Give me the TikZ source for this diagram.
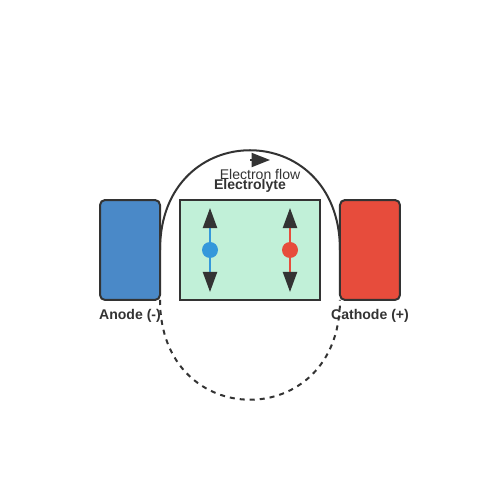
\documentclass[tikz,border=0pt]{standalone}
\usepackage{fontspec}
\setmainfont{Liberation Sans}
\usetikzlibrary{arrows.meta,positioning}

\definecolor{dark}{HTML}{333333}
\definecolor{anodeblue}{HTML}{4A89C8}
\definecolor{cathodered}{HTML}{E74C3C}
\definecolor{electrolyte}{HTML}{C1F0D8}
\definecolor{ionblue}{HTML}{3498DB}
\definecolor{ionred}{HTML}{E74C3C}

\begin{document}
\begin{tikzpicture}[x=0.02cm,y=0.02cm,line width=1.14pt,node distance=0.4cm,
                    font=\fontsize{8}{9.6}\selectfont]
  \tikzstyle{electrode}=[draw=dark,rounded corners=2.85pt,minimum width=1.2cm,
                         minimum height=2cm,inner sep=0pt,outer sep=0pt]
  \tikzstyle{ion}=[circle,inner sep=0pt,outer sep=0pt,minimum size=0.32cm]
  \tikzstyle{drift}=[-{Triangle[length=11.4pt,width=8pt,color=dark]}]
  \tikzstyle{elabel}=[text=dark,font=\bfseries\fontsize{8}{9.6}\selectfont,anchor=base]

  \useasboundingbox (0,0) rectangle (500,500);

  \node[draw=dark,fill=electrolyte,minimum width=2.8cm,minimum height=2cm,
        inner sep=0pt,outer sep=0pt] (bath) at (250,250) {};
  \node[electrode,fill=anodeblue]  (anode)   [left=of bath]  {};
  \node[electrode,fill=cathodered] (cathode) [right=of bath] {};

  % ions
  \node[ion,fill=ionblue] (neg) at (210,250) {};
  \node[ion,fill=ionred]  (pos) at (290,250) {};
  \coordinate (negup)   at (210,292);
  \coordinate (negdown) at (210,208);
  \coordinate (posup)   at (290,292);
  \coordinate (posdown) at (290,208);
  \draw[drift,ionblue] (neg) -- (negup);
  \draw[drift,ionblue] (neg) -- (negdown);
  \draw[drift,ionred]  (pos) -- (posup);
  \draw[drift,ionred]  (pos) -- (posdown);

  % external circuit
  \draw[dark] (anode.east) .. controls +(0,133) and +(0,133) .. (cathode.west);
  \draw[dark,dash pattern=on 2.85pt off 2.85pt]
    (anode.south east) .. controls +(0,-133) and +(0,-133) .. (cathode.south west);
  \coordinate (flowtail) at (250,340);
  \coordinate (flowhead) at (270,340);
  \draw[dark,-{Triangle[length=10.5pt,width=8pt]}] (flowtail) -- (flowhead);

  \node[text=dark,anchor=base] (flowtext) at (260,320) {Electron flow};
  \node[elabel] (bathtext)    at (250,310) {Electrolyte};
  \node[elabel] (anodetext)   at (130,180) {Anode (-)};
  \node[elabel] (cathodetext) at (370,180) {Cathode (+)};
\end{tikzpicture}
\end{document}
